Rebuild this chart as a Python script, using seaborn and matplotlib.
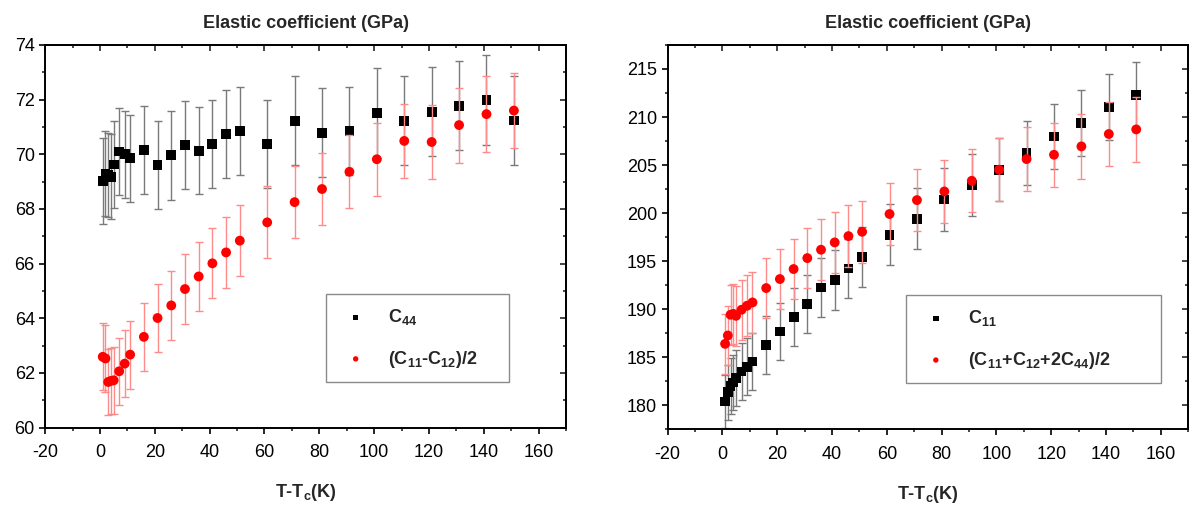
import numpy as np
import pandas as pd
import matplotlib
matplotlib.use("Agg")
import matplotlib.pyplot as plt
from matplotlib.ticker import MultipleLocator
import seaborn as sns

# ---------------- data ----------------
T = [1, 2, 3, 4, 5, 7, 9, 11, 16, 21, 26, 31, 36, 41, 46, 51, 61, 71, 81, 91,
     101, 111, 121, 131, 141, 151]

C44 = [69.02, 69.30, 69.24, 69.18, 69.63, 70.10, 70.00, 69.85, 70.16, 69.62,
       69.96, 70.34, 70.13, 70.38, 70.75, 70.85, 70.37, 71.23, 70.79, 70.86,
       71.51, 71.23, 71.56, 71.77, 71.98, 71.24]
C44_err = [1.58, 1.55, 1.55, 1.55, 1.58, 1.60, 1.60, 1.60, 1.60, 1.61, 1.62,
           1.60, 1.60, 1.60, 1.60, 1.60, 1.60, 1.63, 1.62, 1.62, 1.63, 1.62,
           1.63, 1.63, 1.64, 1.64]

Cp = [62.59, 62.53, 61.67, 61.71, 61.73, 62.06, 62.34, 62.67, 63.32, 64.01,
      64.47, 65.07, 65.53, 66.01, 66.41, 66.84, 67.51, 68.25, 68.73, 69.36,
      69.82, 70.49, 70.45, 71.07, 71.47, 71.60]
Cp_err = [1.22, 1.22, 1.22, 1.22, 1.22, 1.23, 1.23, 1.24, 1.25, 1.25, 1.26,
          1.27, 1.27, 1.28, 1.29, 1.29, 1.32, 1.32, 1.32, 1.33, 1.34, 1.35,
          1.35, 1.37, 1.38, 1.38]

C11 = [180.38, 181.35, 182.00, 182.35, 182.84, 183.50, 184.00, 184.54, 186.28,
       187.67, 189.17, 190.55, 192.25, 193.05, 194.23, 195.42, 197.74, 199.41,
       201.42, 202.95, 204.51, 206.25, 207.98, 209.37, 211.04, 212.29]
C11_err = [2.80, 2.85, 2.90, 2.90, 2.90, 2.95, 2.95, 3.00, 3.00, 3.00, 3.05,
           3.05, 3.07, 3.10, 3.10, 3.15, 3.20, 3.20, 3.25, 3.25, 3.30, 3.30,
           3.35, 3.40, 3.45, 3.40]

CL = [186.38, 187.25, 189.41, 189.50, 189.30, 189.93, 190.35, 190.69, 192.19,
      193.13, 194.17, 195.31, 196.18, 196.94, 197.60, 198.05, 199.90, 201.35,
      202.25, 203.36, 204.51, 205.62, 206.07, 206.94, 208.23, 208.71]
CL_err = [3.10, 3.10, 3.10, 3.15, 3.15, 3.15, 3.15, 3.15, 3.10, 3.10, 3.15,
          3.15, 3.20, 3.20, 3.20, 3.20, 3.25, 3.25, 3.30, 3.30, 3.30, 3.35,
          3.35, 3.35, 3.30, 3.40]

label_C44 = r"C$_{44}$"
label_Cp = r"(C$_{11}$-C$_{12}$)/2"
label_C11 = r"C$_{11}$"
label_CL = r"(C$_{11}$+C$_{12}$+2C$_{44}$)/2"

title = "Elastic coefficient (GPa)"
xlabel = r"T-T$_c$(K)"

# ---------------- style ----------------
sns.set_theme(style="ticks")
plt.rcParams["font.family"] = ["Liberation Sans", "DejaVu Sans"]
plt.rcParams["mathtext.fontset"] = "custom"
plt.rcParams["mathtext.rm"] = "Liberation Sans:bold"
plt.rcParams["mathtext.it"] = "Liberation Sans:bold"
plt.rcParams["mathtext.bf"] = "Liberation Sans:bold"
plt.rcParams["mathtext.default"] = "bf"
plt.rcParams["axes.unicode_minus"] = False

fig = plt.figure(figsize=(11.92, 5.13), dpi=100)
axL = fig.add_axes([0.0379, 0.1665, 0.4369, 0.7458])
axR = fig.add_axes([0.5600, 0.1635, 0.4369, 0.7488])


def draw(ax, y1, e1, l1, y2, e2, l2):
    df1 = pd.DataFrame({"T": T, "v": y1, "e": e1})
    df2 = pd.DataFrame({"T": T, "v": y2, "e": e2})
    ax.errorbar(df1["T"], df1["v"], yerr=df1["e"], fmt="none",
                ecolor="#7a7a7a", elinewidth=1.0, capsize=3.2, capthick=1.0,
                zorder=2)
    sns.scatterplot(data=df1, x="T", y="v", marker="s", color="black", s=50,
                    edgecolor="none", ax=ax, label=l1, zorder=3)
    ax.errorbar(df2["T"], df2["v"], yerr=df2["e"], fmt="none",
                ecolor="#ff8a8a", elinewidth=1.0, capsize=3.2, capthick=1.0,
                zorder=4)
    sns.scatterplot(data=df2, x="T", y="v", marker="o", color="red", s=50,
                    edgecolor="none", ax=ax, label=l2, zorder=5)


draw(axL, C44, C44_err, label_C44, Cp, Cp_err, label_Cp)
draw(axR, C11, C11_err, label_C11, CL, CL_err, label_CL)

axL.set_xlim(-20, 170)
axL.set_ylim(60, 74)
axR.set_xlim(-20, 170)
axR.set_ylim(177.5, 217.5)

for ax, ymaj, ymin in [(axL, 2, 1), (axR, 5, 2.5)]:
    for s in ax.spines.values():
        s.set_visible(True)
        s.set_linewidth(1.4)
        s.set_color("black")
    ax.xaxis.set_major_locator(MultipleLocator(20))
    ax.xaxis.set_minor_locator(MultipleLocator(10))
    ax.yaxis.set_major_locator(MultipleLocator(ymaj))
    ax.yaxis.set_minor_locator(MultipleLocator(ymin))
    ax.tick_params(which="major", direction="out", length=4.5, width=1.2,
                   labelsize=13, colors="black")
    ax.tick_params(which="minor", direction="out", length=2.5, width=1.2)
    ax.tick_params(axis="x", which="major", pad=7.5)
    ax.tick_params(axis="y", which="major", pad=3)
    ax.set_title(title, fontsize=13, fontweight="bold", pad=12)
    ax.set_xlabel(xlabel, fontsize=13, fontweight="bold", labelpad=15)
    ax.set_ylabel("")
    # mirrored inward ticks on top and right
    top = ax.secondary_xaxis("top")
    top.xaxis.set_major_locator(MultipleLocator(20))
    top.xaxis.set_minor_locator(MultipleLocator(10))
    top.tick_params(which="major", direction="in", length=4.5, width=1.2,
                    labeltop=False)
    top.tick_params(which="minor", direction="in", length=2.5, width=1.2)
    top.spines["top"].set_linewidth(1.4)
    right = ax.secondary_yaxis("right")
    right.yaxis.set_major_locator(MultipleLocator(ymaj))
    right.yaxis.set_minor_locator(MultipleLocator(ymin))
    right.tick_params(which="major", direction="in", length=4.5, width=1.2,
                      labelright=False)
    right.tick_params(which="minor", direction="in", length=2.5, width=1.2)
    right.spines["right"].set_linewidth(1.4)

legkw = dict(fancybox=False, framealpha=1, edgecolor="#8a8a8a",
             prop={"weight": "bold", "size": 13}, markerscale=0.55,
             handlelength=1.9, handletextpad=0.85, borderpad=0.7,
             labelspacing=1.2, borderaxespad=0, loc="lower left",
             mode="expand")
lgL = axL.legend(bbox_to_anchor=(0.539, 0.1185, 0.352, 0.222), **legkw)
lgR = axR.legend(bbox_to_anchor=(0.458, 0.119, 0.490, 0.222), **legkw)
for lg in (lgL, lgR):
    lg.get_frame().set_linewidth(1.0)

fig.savefig("out.png", dpi=100)
